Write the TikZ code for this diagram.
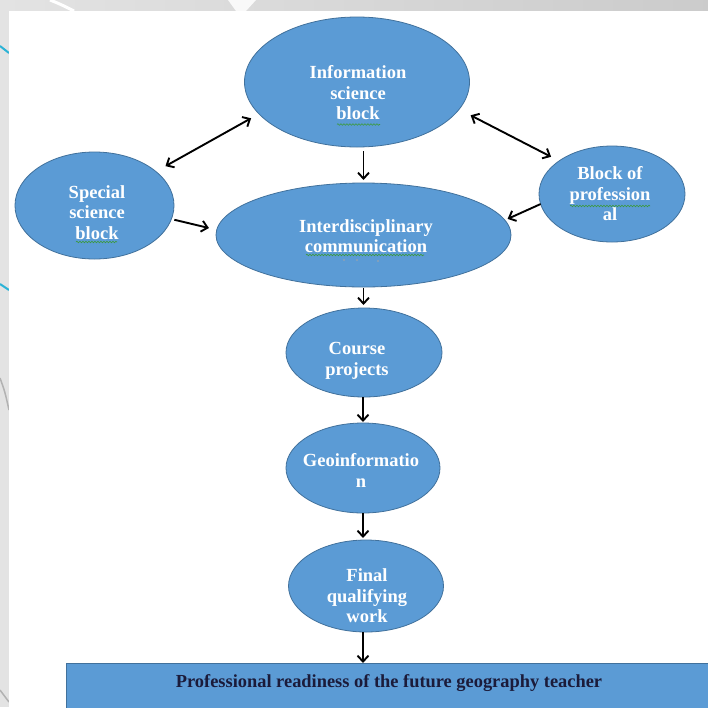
\documentclass[tikz,border=0pt]{standalone}
\usepackage{fontspec}
\setmainfont{Liberation Serif}
\usetikzlibrary{shapes.geometric,arrows.meta,decorations.pathmorphing}
\definecolor{blockblue}{HTML}{5B9BD5}
\definecolor{blockedge}{HTML}{41719C}
\definecolor{navytext}{HTML}{1B1B3A}
\definecolor{squig}{HTML}{3C9A3C}
\definecolor{bgband}{HTML}{D6D6D6}
\definecolor{bgleft}{HTML}{E3E3E3}
\definecolor{slidecyan}{HTML}{2BB3D6}
\tikzset{
  blob/.style={ellipse, draw=blockedge, fill=blockblue, line width=0.8pt, inner sep=0pt, outer sep=0pt},
  txt/.style={text=white, font=\bfseries\fontsize{18.5}{20.5}\selectfont, align=center, inner sep=0pt},
  arr/.style={-{Straight Barb[length=6pt,width=11pt]}, line width=1.9pt, black},
  darr/.style={{Straight Barb[length=6pt,width=11pt]}-{Straight Barb[length=6pt,width=11pt]}, line width=1.9pt, black},
  readybox/.style={rectangle, draw=blockedge, fill=blockblue, line width=0.9pt, inner sep=0pt, outer sep=0pt, anchor=north west},
  spell/.style={squig, line width=0.6pt, decorate, decoration={snake, segment length=3pt, amplitude=0.8pt}},
}
\begin{document}
\begin{tikzpicture}[x=1pt,y=-1pt]
\useasboundingbox (0,0) rectangle (708,707);
% slide background
\shade[left color=bgleft, right color=bgband!95!black] (0,0) rectangle (708,11);
\fill[bgleft] (0,0) rectangle (9,707);
\draw[white, line width=3pt] (50,0) .. controls (60,4) .. (74,11);
\fill[white!85!bgband] (228,0) -- (256,0) -- (246,11) -- (236,11) -- cycle;
\draw[slidecyan, line width=2pt] (0,46) -- (9,53);
\draw[slidecyan, line width=2pt] (0,284) -- (9,290);
\draw[gray!60, line width=1.5pt] (0,378) .. controls (5,392) .. (9,410);
\draw[gray!60, line width=1.5pt] (0,690) -- (9,702);
\fill[white] (9,11) rectangle (708,707);

% ellipses
\node[blob, minimum width=225pt, minimum height=130pt] (info) at (357,82) {};
\node[blob, minimum width=159pt, minimum height=107pt] (special) at (94.5,205.5) {};
\node[blob, minimum width=146pt, minimum height=96pt] (block) at (612,194) {};
\node[blob, minimum width=295pt, minimum height=104pt] (inter) at (363.5,235) {};
\node[blob, minimum width=156pt, minimum height=89pt] (course) at (364,352.5) {};
\node[blob, minimum width=154pt, minimum height=90pt] (geo) at (363,468) {};
\node[blob, minimum width=155pt, minimum height=92pt] (final) at (366,586) {};
\node[readybox, minimum width=646pt, minimum height=50pt] (ready) at (66,663) {};

% texts
\node[txt] (infot) at (358,93) {Information\\science\\block};
\node[txt] (specialt) at (97,212.5) {Special\\science\\block};
\node[txt] (blockt) at (610,194) {Block of\\profession\\al};
\node[txt] (intert) at (366,236) {Interdisciplinary\\communication};
\node[txt] (courset) at (357,361) {Course\\projects};
\node[txt] (geot) at (361,470.5) {Geoinformatio\\n};
\node[txt] (finalt) at (367,596) {Final\\qualifying\\work};
\node[text=navytext, font=\bfseries\fontsize{18.4}{20}\selectfont, inner sep=0pt] (readyt) at (389,683) {Professional readiness of the future geography teacher};

% spell-check marks and dots
\draw[spell] (337,124.5) -- (380,124.5);
\draw[spell] (76,242) -- (117,242);
\draw[spell] (570,206) -- (650,206);
\draw[spell] (306,255) -- (424,255);
\fill[gray!70] (344,260) circle (0.9pt) (357,260) circle (0.9pt) (378,261) circle (0.9pt);

% connectors
\draw[darr, shorten <=11pt, shorten >=9pt] (special.29) -- (info.198);
\draw[darr, shorten <=13pt, shorten >=9pt] (info.-15) -- (block.148);
\draw[arr, shorten <=3pt, shorten >=8pt] (special.-10) -- (inter.178.5);
\draw[arr, shorten >=3pt] (block.188) -- (inter.6);
\draw[arr, shorten <=4pt, shorten >=3pt] (info.south -| inter.north) -- (inter.north);
\draw[arr, shorten <=1pt, shorten >=3pt] (inter.south) -- (inter.south |- course.north);
\draw[arr, shorten >=1pt] (course.south -| geo.north) -- (geo.north);
\draw[arr, shorten >=2pt] (geo.south) -- (geo.south |- final.north);
\draw[arr] (final.south -| geo.south) -- (ready.north -| geo.south);
\end{tikzpicture}
\end{document}
